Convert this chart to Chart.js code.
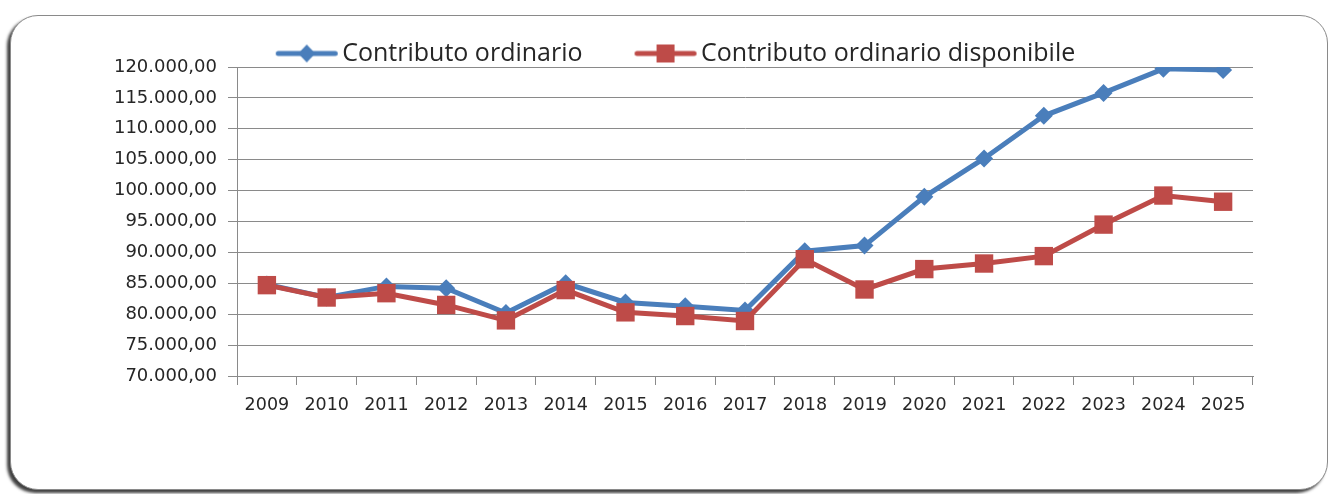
<!DOCTYPE html>
<html>
<head>
<meta charset="utf-8">
<script src="https://cdn.jsdelivr.net/npm/chart.js@4/dist/chart.umd.min.js"></script>
<style>
  html, body { margin: 0; padding: 0; background: #ffffff; }
  body { width: 1332px; height: 494px; position: relative; overflow: hidden; }
  #card {
    position: absolute; left: 10px; top: 15px; width: 1316px; height: 473px;
    border: 1px solid #8a8a8a; border-radius: 28px; background: #fff;
    box-shadow: -3px 3px 3px rgba(0,0,0,0.75);
  }
  #wrap { position: absolute; left: 0; top: 0; width: 1332px; height: 494px; }
</style>
</head>
<body>
<div id="card"></div>
<div id="wrap"><canvas id="c" width="1332" height="494"></canvas></div>
<script>
const categories = ['2009','2010','2011','2012','2013','2014','2015','2016','2017','2018','2019','2020','2021','2022','2023','2024','2025'];
const contributoOrdinario = [84800, 82700, 84500, 84200, 80200, 85000, 81900, 81300, 80600, 90200, 91100, 99000, 105200, 112100, 115800, 119700, 119500];
const contributoDisponibile = [84700, 82700, 83400, 81500, 79000, 83900, 80300, 79700, 78900, 88900, 84000, 87300, 88200, 89400, 94500, 99200, 98200];
const seriesNames = ['Contributo ordinario', 'Contributo ordinario disponibile'];

const BLUE = '#4A7EBB';
const RED = '#BE4B48';
const TEXT = '#262626';
const GRID = '#8a8a8a';
const LEGEND_BOX = 106;
const ICON_EXT = 12;
const LEGEND_HEIGHT = 26;

function fmtIt(v) {
  const n = Math.round(v);
  const s = String(n).replace(/\B(?=(\d{3})+(?!\d))/g, '.');
  return s + ',00';
}

function legendIcon(color, shape) {
  const c = document.createElement('canvas');
  const w = LEGEND_BOX + 2 * ICON_EXT;
  c.width = w; c.height = 24;
  const g = c.getContext('2d');
  const x1 = w - 4, x0 = x1 - 62, cx = (x0 + x1) / 2, cy = 12;
  g.strokeStyle = color; g.lineWidth = 5; g.lineCap = 'round';
  g.beginPath(); g.moveTo(x0 + 2.5, cy); g.lineTo(x1 - 2.5, cy); g.stroke();
  g.fillStyle = color;
  if (shape === 'diamond') {
    g.beginPath(); g.moveTo(cx, cy - 9); g.lineTo(cx + 8.5, cy); g.lineTo(cx, cy + 9); g.lineTo(cx - 8.5, cy); g.closePath(); g.fill();
  } else {
    g.fillRect(cx - 9, cy - 9, 18, 18);
  }
  return c;
}

const legendFit = {
  id: 'legendFit',
  beforeLayout(chart) {
    const lg = chart.legend;
    if (lg && !lg._fitPatched) {
      const orig = lg.fit.bind(lg);
      lg.fit = function () { orig(); this.height = LEGEND_HEIGHT; };
      lg._fitPatched = true;
    }
  }
};

const ctx = document.getElementById('c').getContext('2d');
new Chart(ctx, {
  type: 'line',
  plugins: [legendFit],
  data: {
    labels: categories,
    datasets: [
      {
        label: seriesNames[0],
        data: contributoOrdinario,
        borderColor: BLUE, backgroundColor: BLUE,
        borderWidth: 5, pointStyle: 'rectRot', pointRadius: 9,
        pointBackgroundColor: BLUE, pointBorderColor: BLUE, pointBorderWidth: 0,
        tension: 0, order: 1
      },
      {
        label: seriesNames[1],
        data: contributoDisponibile,
        borderColor: RED, backgroundColor: RED,
        borderWidth: 5, pointStyle: 'rect', pointRadius: 13,
        pointBackgroundColor: RED, pointBorderColor: RED, pointBorderWidth: 0,
        tension: 0, order: 0
      }
    ]
  },
  options: {
    responsive: false,
    animation: false,
    devicePixelRatio: 1,
    layout: { padding: { left: 46, right: 79, top: 41, bottom: 78 } },
    plugins: {
      tooltip: { enabled: false },
      legend: {
        position: 'top',
        labels: {
          usePointStyle: true,
          pointStyleWidth: LEGEND_BOX,
          padding: 0,
          color: TEXT,
          font: { family: '"Open Sans", sans-serif', size: 25 },
          sort: (a, b) => a.datasetIndex - b.datasetIndex,
          generateLabels: (chart) => chart.data.datasets.map((ds, i) => ({
            text: ds.label,
            pointStyle: legendIcon(ds.borderColor, i === 0 ? 'diamond' : 'square'),
            fillStyle: ds.borderColor, strokeStyle: ds.borderColor, lineWidth: 0,
            hidden: false, datasetIndex: i, fontColor: TEXT
          }))
        }
      }
    },
    scales: {
      x: {
        offset: true,
        afterFit: (s) => { s.height = 40; },
        grid: { display: true, offset: true, drawOnChartArea: false, drawTicks: true, tickLength: 9, color: GRID },
        border: { display: true, color: GRID, width: 1 },
        ticks: { color: TEXT, padding: 10, font: { family: '"DejaVu Sans", sans-serif', size: 17.5 }, maxRotation: 0, autoSkip: false }
      },
      y: {
        min: 70000, max: 120000,
        afterFit: (s) => { s.width = 191; },
        grid: { color: GRID, lineWidth: 1, tickLength: 9, drawTicks: true },
        border: { display: true, color: GRID, width: 1 },
        ticks: {
          stepSize: 5000, color: TEXT, padding: 11,
          font: { family: '"DejaVu Sans", sans-serif', size: 18 },
          callback: (v) => fmtIt(v)
        }
      }
    }
  }
});
</script>
</body>
</html>
